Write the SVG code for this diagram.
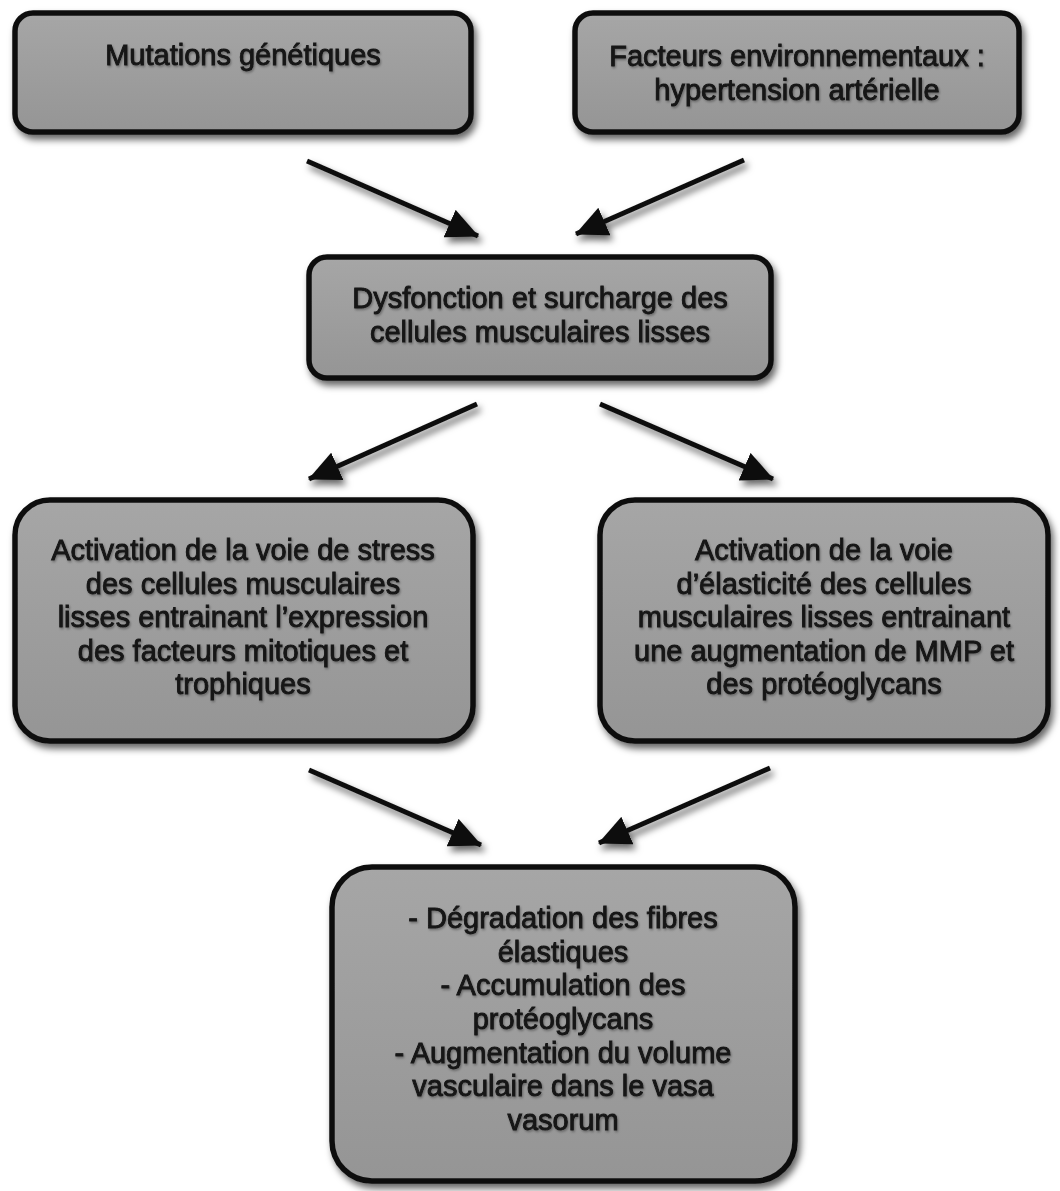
<svg xmlns="http://www.w3.org/2000/svg" width="1060" height="1191" viewBox="0 0 1060 1191">
<style>
.box{fill:url(#g);stroke:#111;stroke-width:5.5;filter:url(#sh)}
.t{font-family:"Liberation Sans",Arial,Helvetica,sans-serif;font-size:29px;fill:#141414;stroke:#141414;stroke-width:0.8;text-anchor:middle;filter:url(#ts)}
.ar{stroke:#111;stroke-width:5;fill:none;marker-end:url(#ah);filter:url(#sh)}
</style>
<defs>
<linearGradient id="g" x1="0" y1="0" x2="0" y2="1">
<stop offset="0" stop-color="#a6a6a6"/>
<stop offset="1" stop-color="#959595"/>
</linearGradient>
<filter id="sh" x="-10%" y="-10%" width="130%" height="130%">
<feDropShadow dx="3" dy="5" stdDeviation="3.5" flood-color="#000" flood-opacity="0.6"/>
</filter>
<filter id="ts" x="-5%" y="-20%" width="110%" height="150%">
<feDropShadow dx="1" dy="1.5" stdDeviation="1" flood-color="#000" flood-opacity="0.35"/>
</filter>
<marker id="ah" viewBox="0 0 32 30" refX="31" refY="15" markerWidth="32" markerHeight="30" markerUnits="userSpaceOnUse" orient="auto-start-reverse">
<path d="M0,0 L32,15 L0,30 z" fill="#111"/>
</marker>
</defs>
<g id="n1">
<rect class="box" x="15" y="13" width="456" height="119" rx="18"/>
<text class="t" x="243" y="65">Mutations génétiques</text>
</g>
<g id="n2">
<rect class="box" x="575" y="13" width="444" height="119" rx="18"/>
<text class="t" x="797" y="66">Facteurs environnementaux :</text>
<text class="t" x="797" y="100">hypertension artérielle</text>
</g>
<g id="n3">
<rect class="box" x="309" y="257" width="462" height="121" rx="18"/>
<text class="t" x="540" y="308">Dysfonction et surcharge des</text>
<text class="t" x="540" y="342">cellules musculaires lisses</text>
</g>
<g id="n4">
<rect class="box" x="15" y="500" width="458" height="241" rx="35"/>
<text class="t" x="243" y="560">Activation de la voie de stress</text>
<text class="t" x="243" y="593.5">des cellules musculaires</text>
<text class="t" x="243" y="627">lisses entrainant l’expression</text>
<text class="t" x="243" y="660.5">des facteurs mitotiques et</text>
<text class="t" x="243" y="694">trophiques</text>
</g>
<g id="n5">
<rect class="box" x="600" y="500" width="448" height="241" rx="35"/>
<text class="t" x="824" y="560">Activation de la voie</text>
<text class="t" x="824" y="593.5">d’élasticité des cellules</text>
<text class="t" x="824" y="627">musculaires lisses entrainant</text>
<text class="t" x="824" y="660.5">une augmentation de MMP et</text>
<text class="t" x="824" y="694">des protéoglycans</text>
</g>
<g id="n6">
<rect class="box" x="332" y="867" width="463" height="314" rx="40"/>
<text class="t" x="563" y="928">- Dégradation des fibres</text>
<text class="t" x="563" y="961.7">élastiques</text>
<text class="t" x="563" y="995.4">- Accumulation des</text>
<text class="t" x="563" y="1029">protéoglycans</text>
<text class="t" x="563" y="1062.7">- Augmentation du volume</text>
<text class="t" x="563" y="1096.4">vasculaire dans le vasa</text>
<text class="t" x="563" y="1130">vasorum</text>
</g>
<g id="connectors">
<line class="ar" x1="307" y1="161" x2="478" y2="236"/>
<line class="ar" x1="744" y1="160" x2="576" y2="234"/>
<line class="ar" x1="477" y1="404" x2="309" y2="479"/>
<line class="ar" x1="600" y1="404" x2="773" y2="479"/>
<line class="ar" x1="478" y1="599" x2="597" y2="599" style="marker-start:url(#ah);stroke-width:4"/>
<line class="ar" x1="309" y1="770" x2="481" y2="845"/>
<line class="ar" x1="770" y1="768" x2="599" y2="843"/>
</g>
</svg>
